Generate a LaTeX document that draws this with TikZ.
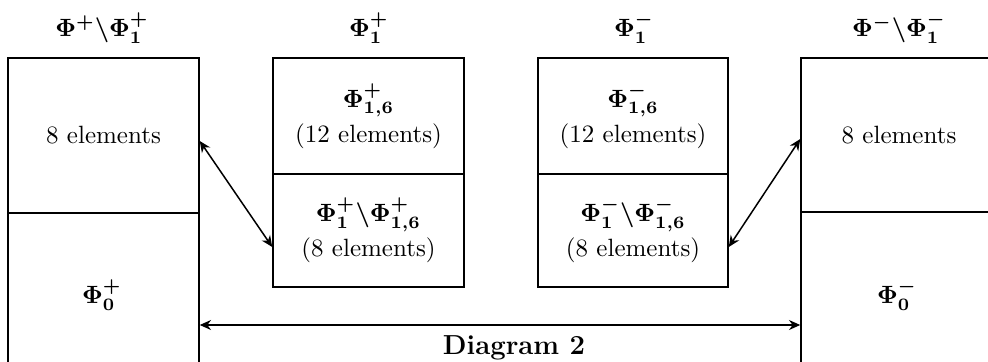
\documentclass[tikz,border=0pt]{standalone}
\usetikzlibrary{arrows.meta,calc}
\begin{document}
\begin{tikzpicture}[x=0.4pt,y=-0.4pt,
  boxpart/.style={draw,line width=0.6pt,rectangle,inner sep=0pt,align=center,font=\fontsize{10}{14}\selectfont},
  lbl/.style={inner sep=0pt,font=\boldmath},
  conn/.style={line width=0.6pt,{Stealth[length=4.5pt,width=4pt]}-{Stealth[length=4.5pt,width=4pt]}}]
\useasboundingbox (0,0) rectangle (988,361);
% left box
\node[boxpart,minimum width=76.4pt,minimum height=62pt] (lu) at (103.5,135.5) {8 elements};
\node[boxpart,minimum width=76.4pt,minimum height=82.8pt] (ll) at (103.5,316.5) {};
\node[lbl] (l0) at (102,295) {$\Phi_0^+$};
% middle left box
\node[boxpart,minimum width=76.4pt,minimum height=46.4pt] (mu) at (368.5,116) {{\boldmath$\Phi_{1,6}^+$}\\(12 elements)};
\node[boxpart,minimum width=76.4pt,minimum height=45.2pt] (ml) at (368.5,230.5) {{\boldmath$\Phi_1^+\backslash\Phi_{1,6}^+$}\\(8 elements)};
% middle right box
\node[boxpart,minimum width=76pt,minimum height=46.4pt] (nu) at (633,116) {{\boldmath$\Phi_{1,6}^-$}\\(12 elements)};
\node[boxpart,minimum width=76pt,minimum height=45.2pt] (nl) at (633,230.5) {{\boldmath$\Phi_1^-\backslash\Phi_{1,6}^-$}\\(8 elements)};
% right box
\node[boxpart,minimum width=78.4pt,minimum height=61.6pt] (ru) at (899,135) {8 elements};
\node[boxpart,minimum width=78.4pt,minimum height=83.2pt] (rl) at (899,316) {};
\node[lbl] (r0) at (897,295) {$\Phi_0^-$};
% top labels
\node[lbl] (t1) at (102,28) {$\Phi^+\backslash\Phi_1^+$};
\node[lbl] (t2) at (369,28) {$\Phi_1^+$};
\node[lbl] (t3) at (634,28) {$\Phi_1^-$};
\node[lbl] (t4) at (899,28) {$\Phi^-\backslash\Phi_1^-$};
% connectors
\draw[conn] ([yshift=-2.2pt]lu.east) -- ([yshift=-6.6pt]ml.west);
\draw[conn] ([yshift=-6.6pt]nl.east) -- ([yshift=-1.6pt]ru.west);
\coordinate (base) at (500,325);
\draw[conn] (ll.east |- base) -- (rl.west |- base);
% caption
\node[anchor=base,inner sep=0pt,font=\fontsize{11}{13}\selectfont\bfseries] (cap) at (514,354) {Diagram 2};
\end{tikzpicture}
\end{document}
